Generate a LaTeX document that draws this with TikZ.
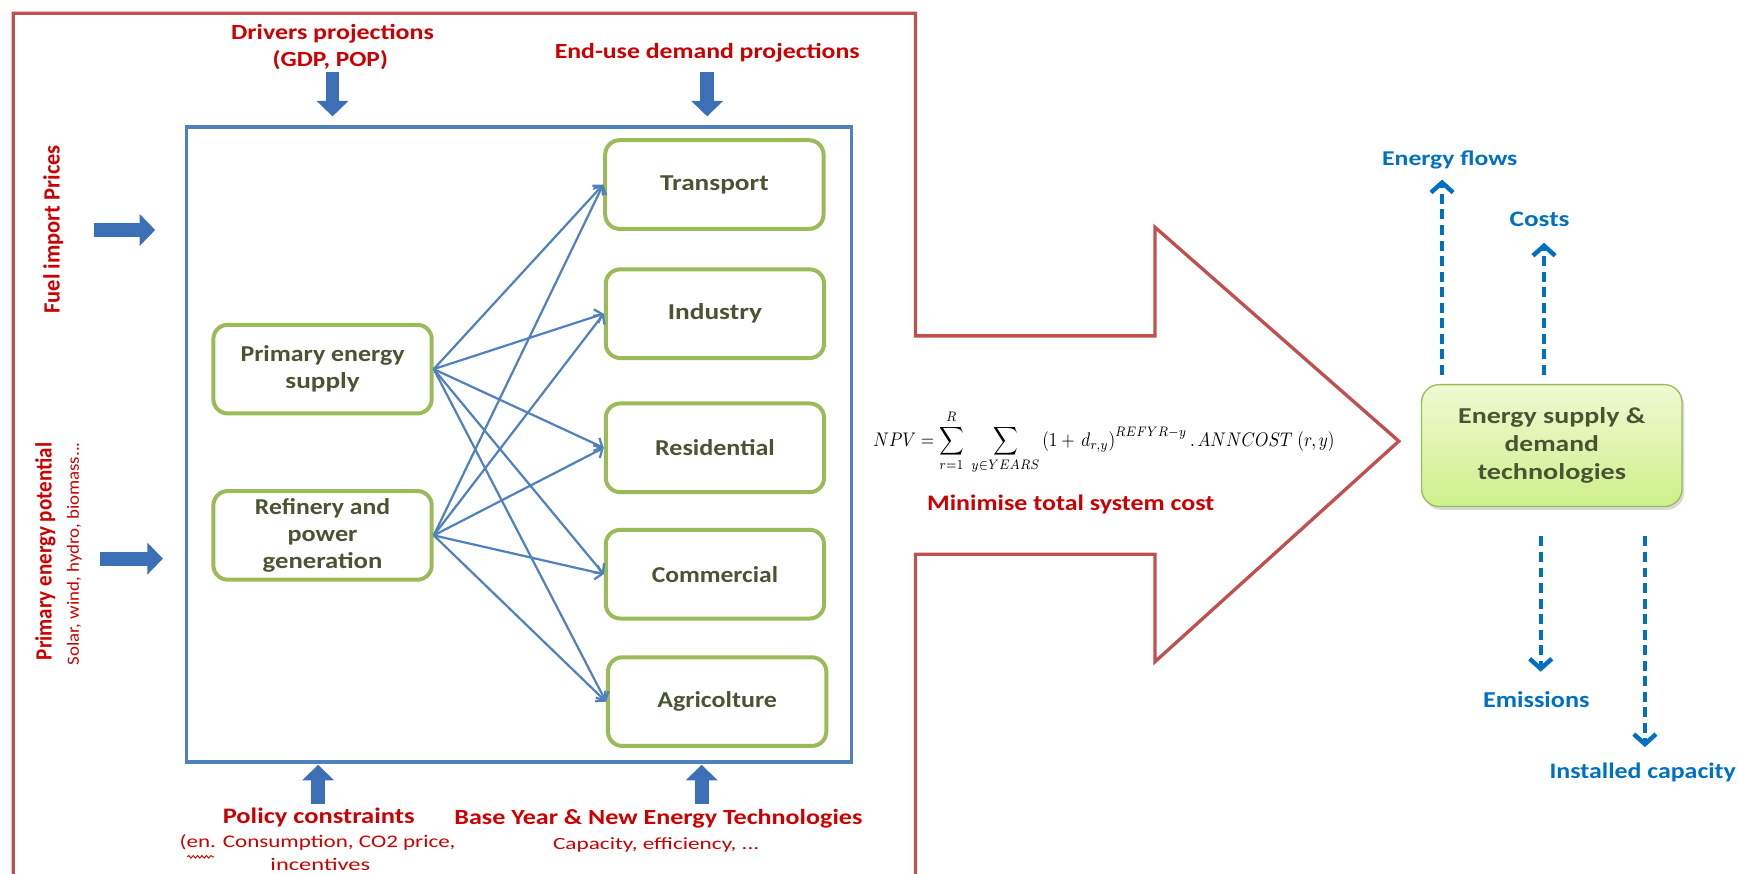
\documentclass[tikz,border=0pt]{standalone}
\usepackage{fontspec}
\setmainfont{Carlito}
\usetikzlibrary{arrows.meta,shadows,calc,decorations.pathmorphing}
\definecolor{redline}{RGB}{192,80,77}
\definecolor{redtext}{RGB}{204,0,0}
\definecolor{bluebox}{RGB}{79,129,189}
\definecolor{arrowblue}{RGB}{60,112,182}
\definecolor{dashblue}{RGB}{0,112,192}
\definecolor{boxgreen}{RGB}{155,187,89}
\definecolor{olive}{RGB}{74,84,50}
\definecolor{esdtop}{RGB}{240,249,210}
\definecolor{esdbot}{RGB}{205,240,140}
\newcommand{\fw}[2]{\resizebox{#1}{\height}{#2}}
\begin{document}
\begin{tikzpicture}[x=1pt,y=-1pt,
  redtxt/.style={text=redtext, font=\bfseries\fontsize{19.5}{22}\selectfont, anchor=base, inner sep=0},
  redsub/.style={text=redtext, font=\fontsize{16}{18}\selectfont, anchor=base, inner sep=0},
  gbox/.style={draw=boxgreen, line width=3.6pt, rounded corners=13pt, minimum width=197pt, minimum height=80pt,
    text=olive, font=\bfseries\fontsize{20.5}{24}\selectfont, align=center, inner sep=0},
  conn/.style={draw=bluebox, line width=2pt, -{Straight Barb[length=6pt 0 0,width=13pt 0 0]}},
  blockarrow/.style={draw=arrowblue, line width=12.5pt, -{Triangle[length=14pt 0 0,width=28pt 0 0]}},
  dasharrow/.style={draw=dashblue, line width=4pt, dash pattern=on 9pt off 5pt, -{Straight Barb[length=9pt 0 0,width=20pt 0 0]}},
  bluetxt/.style={text=dashblue, font=\bfseries\fontsize{19.5}{22}\selectfont, anchor=base, inner sep=0},
  sidetxt/.style={text=redtext, rotate=90, inner sep=0},
]
\useasboundingbox (0,0) rectangle (1568,788);
\clip (0,0) rectangle (1568,788);

% big red outline arrow
\draw[redline, line width=3pt] (12,800) -- (12,12) -- (826,12) -- (826,303) -- (1042,303) -- (1042,205)
  -- (1262,398) -- (1042,597) -- (1042,500) -- (826,500) -- (826,800);

% central blue frame
\node[draw=bluebox, line width=3pt, minimum width=600pt, minimum height=573pt, inner sep=0] (frame) at (468,401) {};

% green boxes
\node[gbox] (tr) at (644.5,166.5) {\fw{98pt}{Transport}};
\node[gbox] (ind) at (645,283) {\fw{85pt}{Industry}};
\node[gbox] (res) at (645,404) {\fw{108pt}{Residential}};
\node[gbox] (com) at (645,518) {\fw{114pt}{Commercial}};
\node[gbox] (agr) at (647,633) {\fw{108pt}{Agricolture}};
\node[gbox] (pes) at (291,333) {\fw{148pt}{Primary energy}\\\fw{67pt}{supply}};
\node[gbox] (ref) at (291,483) {\fw{122pt}{Refinery and}\\\fw{63pt}{power}\\\fw{108pt}{generation}};

\foreach \s in {pes,ref}{
  \foreach \t in {tr,ind,res,com,agr}{
    \draw[conn] (\s.east) -- (\t.west);
  }
}

% top texts and arrows
\node[redtxt] (drv) at (300,36) {\fw{183pt}{Drivers projections}};
\node[redtxt] (drv2) at (298,60) {\fw{104pt}{(GDP, POP)}};
\node[redtxt] (end) at (638,52.5) {\fw{275pt}{End-use demand projections}};
\coordinate (drvS) at (300,65); \coordinate (drvE) at (300,105);
\coordinate (endS) at (638,65); \coordinate (endE) at (638,105);
\draw[blockarrow] (drvS) -- (drvE);
\draw[blockarrow] (endS) -- (endE);

% left texts and arrows
\node[sidetxt, font=\bfseries\fontsize{21}{24}\selectfont] (fuel) at (48,207) {\fw{152pt}{Fuel import Prices}};
\node[sidetxt, font=\bfseries\fontsize{21}{24}\selectfont] (ppot) at (41,497.5) {\fw{196pt}{Primary energy potential}};
\node[sidetxt, font=\fontsize{15.5}{18}\selectfont] (solar) at (67,499.5) {\fw{201pt}{Solar, wind, hydro, biomass...}};
\coordinate (fuelS) at (85,207.5); \coordinate (fuelE) at (140,207.5);
\coordinate (ppS) at (90,504); \coordinate (ppE) at (147,504);
\draw[blockarrow] (fuelS) -- (fuelE);
\draw[blockarrow] (ppS) -- (ppE);

% bottom texts and arrows
\node[redtxt, font=\bfseries\fontsize{20}{22}\selectfont] (pol) at (287.5,743) {\fw{173pt}{Policy constraints}};
\node[redsub] (pol2) at (286.5,764.5) {\fw{249pt}{(en. Consumption, CO2 price,}};
\node[redsub] (pol3) at (289,785) {\fw{90pt}{incentives}};
\coordinate (wavS) at (169,773); \coordinate (wavE) at (193,773);
\draw[redtext, line width=0.8pt, decorate, decoration={snake, amplitude=1.2pt, segment length=4pt}] (wavS) -- (wavE);
\node[redtxt] (base) at (594,744) {\fw{368pt}{Base Year \& New Energy Technologies}};
\node[redsub, font=\fontsize{15.5}{17}\selectfont] (base2) at (592,766) {\fw{186pt}{Capacity, efficiency, ...}};
\coordinate (polS) at (287,725); \coordinate (polE) at (287,690);
\coordinate (baseS) at (633,725); \coordinate (baseE) at (633,690);
\draw[blockarrow] (polS) -- (polE);
\draw[blockarrow] (baseS) -- (baseE);

% formula
\node[inner sep=0] (npv) at (996,399) {\scalebox{1}[1.15]{\resizebox{416pt}{!}{$\displaystyle NPV=\sum_{r=1}^{R}\;\sum_{y\in YEARS}\left(1+\,d_{r,y}\right)^{REFYR-y}.\,ANNCOST\;(r,y)$}}};
\node[redtxt, font=\bfseries\fontsize{20}{22}\selectfont] (mini) at (966,461) {\fw{259pt}{Minimise total system cost}};

% result box
\node[draw=boxgreen, line width=1.2pt, rounded corners=16pt, top color=esdtop, bottom color=esdbot,
  minimum width=235pt, minimum height=110pt, align=center, text=olive,
  font=\bfseries\fontsize{20.5}{25}\selectfont,
  drop shadow={opacity=0.3,shadow xshift=2pt,shadow yshift=-3pt}] (esd) at (1400,402)
  {\fw{169pt}{Energy supply \&}\\\fw{85pt}{demand}\\\fw{134pt}{technologies}};

% outputs
\node[bluetxt, font=\bfseries\fontsize{19}{22}\selectfont] (ef) at (1308,149) {\fw{122pt}{Energy flows}};
\node[bluetxt, font=\bfseries\fontsize{20}{22}\selectfont] (cost) at (1389,204) {\fw{54pt}{Costs}};
\node[bluetxt, font=\bfseries\fontsize{20.5}{22}\selectfont] (emi) at (1386,638) {\fw{96pt}{Emissions}};
\node[bluetxt, font=\bfseries\fontsize{20}{22}\selectfont] (inst) at (1482,702) {\fw{168pt}{Installed capacity}};
\coordinate (efS) at (1301,338); \coordinate (efE) at (1301,162);
\coordinate (costS) at (1393,338); \coordinate (costE) at (1393,219);
\coordinate (emiS) at (1390,484); \coordinate (emiE) at (1390,606);
\coordinate (instS) at (1484,484); \coordinate (instE) at (1484,674);
\draw[dasharrow] (efS) -- (efE);
\draw[dasharrow] (costS) -- (costE);
\draw[dasharrow] (emiS) -- (emiE);
\draw[dasharrow] (instS) -- (instE);
\end{tikzpicture}
\end{document}
